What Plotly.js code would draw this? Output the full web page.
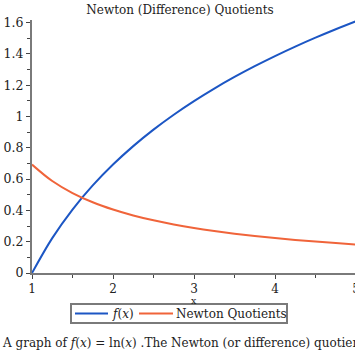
<!DOCTYPE html>
<html>
<head>
<meta charset="utf-8">
<script src="https://cdn.plot.ly/plotly-3.0.1.min.js"></script>
<style>
html,body{margin:0;padding:0;width:355px;height:355px;overflow:hidden;background:#fff;}
#chart{width:370px;height:355px;}
</style>
</head>
<body>
<div id="chart"></div>
<script>
// x values
const xValues = [1, 1.25, 1.5, 1.75, 2, 2.25, 2.5, 2.75, 3, 3.25, 3.5, 3.75, 4, 4.25, 4.5, 4.75, 5];
// f(x) = ln(x)
const fValues = [0, 0.2231, 0.4055, 0.5596, 0.6931, 0.8109, 0.9163, 1.0116, 1.0986, 1.1787, 1.2528, 1.3218, 1.3863, 1.4469, 1.5041, 1.5581, 1.6094];
// Newton quotients
const newtonValues = [0.6931, 0.5878, 0.5108, 0.4520, 0.4055, 0.3677, 0.3365, 0.3102, 0.2877, 0.2683, 0.2513, 0.2364, 0.2231, 0.2113, 0.2007, 0.1911, 0.1823];
const seriesNames = ["<i>f</i>(<i>x</i>)", "Newton Quotients"];
const seriesColors = ["#1c56c4", "#f0643a"];
const xTickLabels = ["1","2","3","4","5"];
const yTickLabels = ["0","0.2","0.4","0.6","0.8","1","1.2","1.4","1.6"];
const titleText = "Newton (Difference) Quotients";
const xTitleText = "x";
const captionText = "A graph of <i>f</i>(<i>x</i>) = ln(<i>x</i>) .The Newton (or difference) quotients";

const FONT = "DejaVu Serif, serif";
const axisGray = "#7a7a7a";

// pixel -> paper helpers (plot area: x 32..356, y 20..273)
const L = 32, PW = 324, B = 273, PH = 253;
const px = p => (p - L) / PW;
const py = q => (B - q) / PH;

const traces = [
  {x: xValues, y: fValues, type: "scatter", mode: "lines", name: seriesNames[0],
   line: {color: seriesColors[0], width: 2, shape: "spline"}},
  {x: xValues, y: newtonValues, type: "scatter", mode: "lines", name: seriesNames[1],
   line: {color: seriesColors[1], width: 2, shape: "spline"}}
];

// custom compact legend (Maple style)
const legendShapes = [
  {type: "rect", xref: "paper", yref: "paper", x0: px(71), x1: px(287), y0: py(304), y1: py(323),
   line: {color: axisGray, width: 2}, fillcolor: "rgba(0,0,0,0)"},
  {type: "line", xref: "paper", yref: "paper", x0: px(75), x1: px(108), y0: py(313.5), y1: py(313.5),
   line: {color: seriesColors[0], width: 2}},
  {type: "line", xref: "paper", yref: "paper", x0: px(139), x1: px(173), y0: py(313.5), y1: py(313.5),
   line: {color: seriesColors[1], width: 2}}
];
const textAnnotations = [
  {text: seriesNames[0], xref: "paper", yref: "paper", x: px(110), xanchor: "left", y: py(313.5), yanchor: "middle",
   showarrow: false, font: {family: FONT, size: 12, color: "#222"}},
  {text: seriesNames[1], xref: "paper", yref: "paper", x: px(174), xanchor: "left", y: py(313.5), yanchor: "middle",
   showarrow: false, font: {family: FONT, size: 12, color: "#222"}},
  {text: xTitleText, xref: "paper", yref: "paper", x: px(194), xanchor: "center", y: py(300), yanchor: "middle",
   showarrow: false, font: {family: FONT, size: 9.5, color: "#222"}},
  {text: captionText, xref: "paper", yref: "paper", x: px(0), xanchor: "left", y: py(343), yanchor: "middle",
   showarrow: false, align: "left", font: {family: FONT, size: 12, color: "#222"}}
];

const layout = {
  width: 370, height: 355,
  margin: {l: 32, r: 14, t: 20, b: 82},
  paper_bgcolor: "#fff", plot_bgcolor: "#fff",
  font: {family: FONT, color: "#222", size: 12},
  title: {text: titleText, font: {family: FONT, size: 12, color: "#222"},
          x: 180/370, xref: "container", y: 0.985, yref: "container", yanchor: "top"},
  xaxis: {
    range: [1, 5], showgrid: false, zeroline: false,
    showline: true, linecolor: axisGray, linewidth: 2,
    ticks: "outside", ticklen: 4, tickwidth: 1, tickcolor: "#444",
    tickvals: [1, 2, 3, 4, 5], ticktext: xTickLabels,
    tickfont: {family: FONT, size: 12, color: "#222"},
    minor: {tickvals: [1.5, 2.5, 3.5, 4.5], ticks: "outside", ticklen: 3, tickcolor: "#444"}
  },
  yaxis: {
    range: [0, 1.617], showgrid: false, zeroline: false,
    showline: true, linecolor: axisGray, linewidth: 2,
    ticks: "outside", ticklen: 4, tickwidth: 1, tickcolor: "#444",
    tickvals: [0, 0.2, 0.4, 0.6, 0.8, 1, 1.2, 1.4, 1.6],
    ticktext: yTickLabels,
    tickfont: {family: FONT, size: 12.5, color: "#222"},
    minor: {tickvals: [0.1, 0.3, 0.5, 0.7, 0.9, 1.1, 1.3, 1.5], ticks: "outside", ticklen: 3, tickcolor: "#444"}
  },
  showlegend: false,
  shapes: legendShapes,
  annotations: textAnnotations
};

Plotly.newPlot("chart", traces, layout, {displayModeBar: false, staticPlot: true});
</script>
</body>
</html>
